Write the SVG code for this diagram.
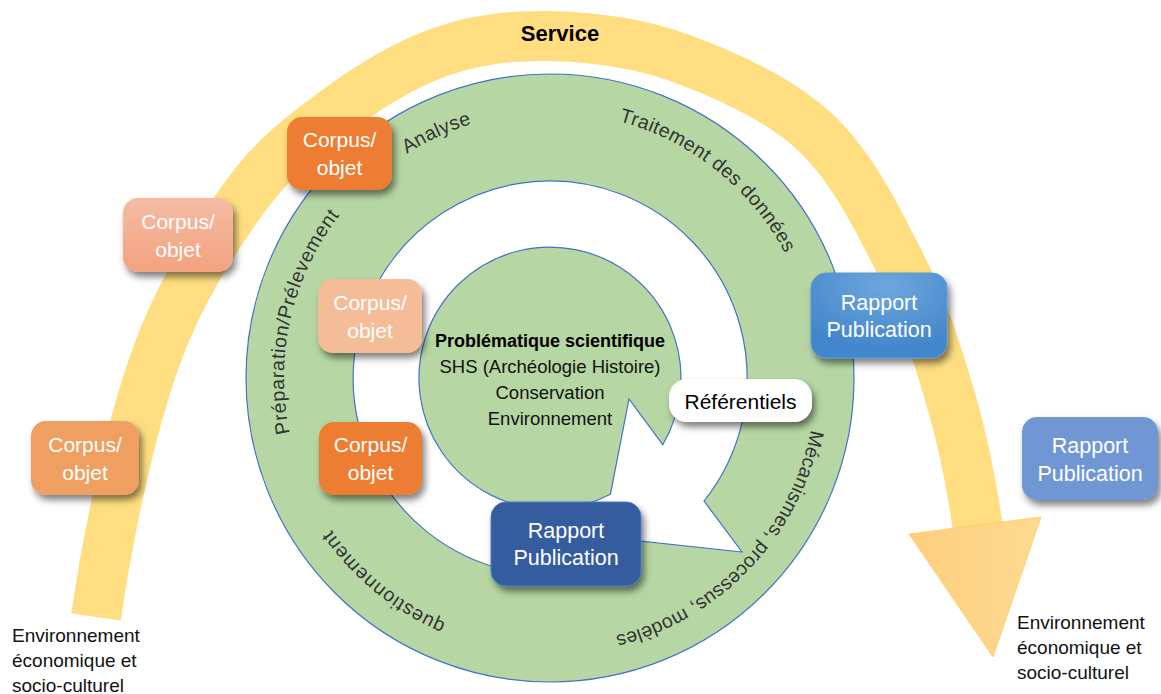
<svg xmlns="http://www.w3.org/2000/svg" width="1161" height="694" viewBox="0 0 1161 694">
<defs>
<style>
text{font-family:"Liberation Sans",Arial,sans-serif}
.lbl{font-size:19.5px;fill:#333333}
.box{font-size:21px;fill:#ffffff;text-anchor:middle}
.rp{font-size:21.5px;fill:#ffffff;text-anchor:middle}
.ctr{font-size:18.5px;fill:#111111;text-anchor:middle}
.env{font-size:19px;fill:#111111}
</style>
<filter id="sh" x="-20%" y="-20%" width="150%" height="170%">
<feDropShadow dx="3" dy="5" stdDeviation="3.5" flood-color="#000000" flood-opacity="0.5"/>
</filter>
<linearGradient id="gPink" x1="0" y1="0" x2="0" y2="1">
<stop offset="0" stop-color="#F5BCA5"/><stop offset="1" stop-color="#F3A27F"/>
</linearGradient>
<radialGradient id="gBlue" cx="0.55" cy="0.15" r="0.75">
<stop offset="0" stop-color="#6EA7DC"/><stop offset="1" stop-color="#4386CB"/>
</radialGradient>
<linearGradient id="gHead" x1="0" y1="0" x2="1" y2="0">
<stop offset="0" stop-color="#FFCF7C"/><stop offset="1" stop-color="#FDDA93"/>
</linearGradient>
<path id="lp" d="M 550 644 A 266 266 0 1 1 550 112 A 266 266 0 1 1 550 644"/>
</defs>

<g id="service">
<path d="M 96 617 C 108.6 530 130.3 429.8 155 360 C 179.7 290.2 214.3 239.2 244 198 C 273.7 156.8 300.3 137.3 333 113 C 365.7 88.7 403.8 64.8 440 52 C 476.2 39.2 510 35 550 36 C 590 37 635.7 41.8 680 58 C 724.3 74.2 779 98.2 816 133 C 853 167.8 879.5 222.5 902 267 C 924.5 311.5 938.5 357 951 400 C 963.5 443 971.6 482.8 978 530" fill="none" stroke="#FFDE81" stroke-width="50"/>
<polygon points="909,534 1041,517 993,657" fill="url(#gHead)" stroke="#FFC84A" stroke-width="1" stroke-opacity="0.7"/>
<text x="560" y="41" font-size="22" font-weight="bold" text-anchor="middle" fill="#000000">Service</text>
</g>

<g id="cycle">
<circle cx="550" cy="378" r="304" fill="#B6D7A3" stroke="#4472C4" stroke-width="1.2"/>
<path d="M 742 552 L 602 537 L 601 568.3 A 197 197 0 1 1 704 501 Z M 662.75 444.7 A 131 131 0 1 0 610.4 494.3 L 629 399 Z" fill="#ffffff" fill-rule="evenodd" stroke="#4472C4" stroke-width="1.2" stroke-linejoin="miter"/>
</g>

<g id="ring-labels">
<text class="lbl" letter-spacing="0.8"><textPath href="#lp" startOffset="107">questionnement</textPath></text>
<text class="lbl" letter-spacing="0.67"><textPath href="#lp" startOffset="362">Préparation/Prélevement</textPath></text>
<text class="lbl" letter-spacing="0.37"><textPath href="#lp" startOffset="684">Analyse</textPath></text>
<text class="lbl" letter-spacing="0.4"><textPath href="#lp" startOffset="905">Traitement des données</textPath></text>
<text class="lbl" letter-spacing="0.2"><textPath href="#lp" startOffset="1305">Mécanismes, processus, modèles</textPath></text>
</g>

<g id="centre">
<text x="550" y="347" font-size="18" font-weight="bold" text-anchor="middle" fill="#000000">Problématique scientifique</text>
<text class="ctr" x="550" y="373">SHS (Archéologie Histoire)</text>
<text class="ctr" x="550" y="399">Conservation</text>
<text class="ctr" x="550" y="425">Environnement</text>
</g>

<g id="corpus-1">
<rect x="287" y="117" width="105" height="73" rx="15" fill="#ED7D31" filter="url(#sh)"/>
<text class="box" x="339.5" y="147">Corpus/</text>
<text class="box" x="339.5" y="175">objet</text>
</g>
<g id="corpus-2">
<rect x="123" y="198" width="110" height="74" rx="15" fill="url(#gPink)" filter="url(#sh)"/>
<text class="box" x="178" y="229">Corpus/</text>
<text class="box" x="178" y="257">objet</text>
</g>
<g id="corpus-3">
<rect x="318" y="279" width="104" height="74" rx="15" fill="#F5BD97" filter="url(#sh)"/>
<text class="box" x="370" y="310">Corpus/</text>
<text class="box" x="370" y="338">objet</text>
</g>
<g id="corpus-4">
<rect x="31" y="421" width="108" height="74" rx="15" fill="#F09F63" filter="url(#sh)"/>
<text class="box" x="85" y="452">Corpus/</text>
<text class="box" x="85" y="480">objet</text>
</g>
<g id="corpus-5">
<rect x="319" y="422" width="103" height="73" rx="15" fill="#ED7D31" filter="url(#sh)"/>
<text class="box" x="370.5" y="452">Corpus/</text>
<text class="box" x="370.5" y="480">objet</text>
</g>

<g id="rapport-1">
<rect x="491" y="502" width="150" height="84" rx="15" fill="#355C9E" stroke="#4A78C4" stroke-width="1" filter="url(#sh)"/>
<text class="rp" x="566" y="538">Rapport</text>
<text class="rp" x="566" y="565">Publication</text>
</g>
<g id="rapport-2">
<rect x="811" y="273" width="136" height="85" rx="15" fill="url(#gBlue)" stroke="#5B9BD5" stroke-width="1" filter="url(#sh)"/>
<text class="rp" x="879" y="310">Rapport</text>
<text class="rp" x="879" y="337">Publication</text>
</g>
<g id="rapport-3">
<rect x="1022" y="417" width="136" height="83" rx="15" fill="#7097D3" filter="url(#sh)"/>
<text class="rp" x="1090" y="453">Rapport</text>
<text class="rp" x="1090" y="481">Publication</text>
</g>

<g id="referentiels">
<rect x="669" y="379" width="143" height="43" rx="18" fill="#ffffff" filter="url(#sh)"/>
<text x="740.5" y="409" font-size="21" text-anchor="middle" fill="#000000">Référentiels</text>
</g>

<g id="env-left">
<text class="env" x="12" y="642">Environnement</text>
<text class="env" x="12" y="667">économique et</text>
<text class="env" x="12" y="692">socio-culturel</text>
</g>
<g id="env-right">
<text class="env" x="1017" y="629">Environnement</text>
<text class="env" x="1017" y="654">économique et</text>
<text class="env" x="1017" y="679">socio-culturel</text>
</g>
</svg>
